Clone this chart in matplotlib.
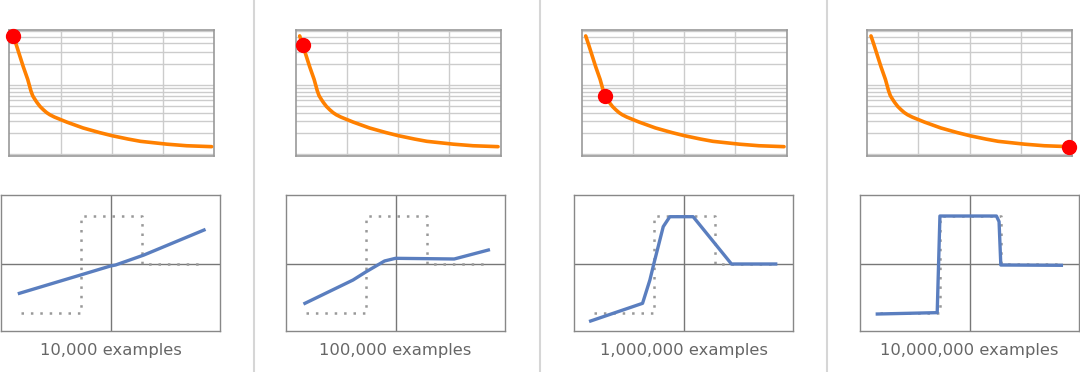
import matplotlib
matplotlib.use("Agg")
import matplotlib.pyplot as plt
from matplotlib.lines import Line2D

# ---- data ----
loss_x = [1.95, 3.4, 5, 6.8, 9, 10.5, 11.4, 12.5, 13.5, 15, 16.6, 18.2, 19.8, 22, 25.5, 28, 36, 44, 50, 58, 64, 77, 86.5, 98.7]
loss_y = [51, 38, 27, 18.4, 12.0, 8.3, 7.0, 6.2, 5.6, 4.9, 4.4, 4.0, 3.72, 3.45, 3.13, 2.92, 2.4, 2.06, 1.86, 1.66, 1.54, 1.4, 1.33, 1.29]
marker_index = [0, 1, 6, 23]

target_x = [-0.82, -0.27, -0.27, 0.29, 0.29, 0.84]
target_y = [-1, -1, 1, 1, 0, 0]

fit1_x = [-0.832, -0.274, 0.0, 0.046, 0.305, 0.854]
fit1_y = [-0.597, -0.22, -0.034, -0.014, 0.192, 0.707]
fit2_x = [-0.827, -0.388, -0.267, -0.1, 0.0, 0.279, 0.536, 0.848]
fit2_y = [-0.803, -0.323, -0.151, 0.069, 0.124, 0.117, 0.11, 0.295]
fit3_x = [-0.848, -0.374, -0.307, -0.27, -0.185, -0.125, 0.088, 0.438, 0.842]
fit3_y = [-1.167, -0.803, -0.323, 0.02, 0.776, 0.981, 0.981, 0.007, 0.007]
fit4_x = [-0.842, -0.295, -0.27, 0.246, 0.27, 0.286, 0.839]
fit4_y = [-1.023, -0.995, 0.995, 0.995, 0.88, -0.014, -0.02]
fits = [(fit1_x, fit1_y), (fit2_x, fit2_y), (fit3_x, fit3_y), (fit4_x, fit4_y)]

labels = ["10,000 examples", "100,000 examples", "1,000,000 examples", "10,000,000 examples"]

# ---- layout ----
W, H = 1080, 372
fig = plt.figure(figsize=(W / 100, H / 100), dpi=100)

top_lefts = [9.3, 295.7, 581.7, 867]
top_w = 205
top_T, top_B = 30, 156
bot_lefts = [1, 286, 574, 860]
bot_w = 219
bot_T, bot_B = 195, 331

orange = "#ff8000"
blue = "#5a7ebf"

def px_axes(L, T, w, B):
    return fig.add_axes([L / W, 1 - B / H, w / W, (B - T) / H])

for i in range(4):
    # top: loss curve
    ax = px_axes(top_lefts[i], top_T, top_w, top_B)
    ax.set_yscale("log")
    ax.set_xlim(0, 100)
    ax.set_ylim(0.946, 62.1)
    ax.set_xticks([25, 50, 75])
    ax.grid(True, which="both", color="#cccccc", lw=1.0)
    ax.tick_params(which="both", length=0, labelleft=False, labelbottom=False)
    ax.set_yticklabels([], minor=True)
    for s in ax.spines.values():
        s.set_color("#999999")
        s.set_linewidth(1.2)
    ax.plot(loss_x, loss_y, color=orange, lw=2.6, solid_capstyle="round",
            solid_joinstyle="round", zorder=3)
    mi = marker_index[i]
    ax.plot([loss_x[mi]], [loss_y[mi]], "o", color="#ff0000", ms=10, zorder=4, clip_on=False)

    # bottom: fit vs target
    bx = px_axes(bot_lefts[i], bot_T, bot_w, bot_B)
    bx.set_xlim(-1, 1)
    bx.set_ylim(-1.373, 1.428)
    bx.set_xticks([])
    bx.set_yticks([])
    for s in bx.spines.values():
        s.set_color("#888888")
        s.set_linewidth(1.0)
    bx.axhline(0, color="#777777", lw=1.0, zorder=1)
    bx.axvline(0, color="#777777", lw=1.0, zorder=1)
    bx.plot(target_x, target_y, color="#999999", lw=1.8, ls=(0, (1, 2.76)), zorder=2)
    fx, fy = fits[i]
    bx.plot(fx, fy, color=blue, lw=2.4, solid_joinstyle="round", zorder=3)

    fig.text((bot_lefts[i] + bot_w / 2) / W, 1 - 350 / H, labels[i],
             ha="center", va="center", fontsize=11.8, color="#666666",
             family="DejaVu Sans")

# separators
for sx in [254.5, 540, 826.7]:
    fig.add_artist(Line2D([sx / W, sx / W], [0, 1], color="#d6d6d6", lw=1.5,
                          transform=fig.transFigure))

fig.savefig("out.png", dpi=100)
